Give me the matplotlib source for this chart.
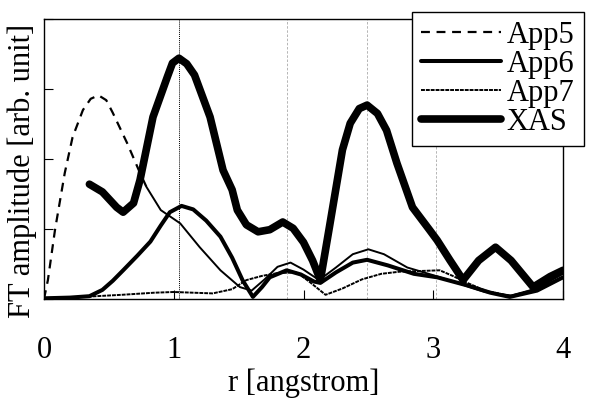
import numpy as np
import matplotlib
matplotlib.use('Agg')
import matplotlib.pyplot as plt

plt.rcParams['font.family'] = ['Liberation Serif', 'DejaVu Serif']

# values (r in angstrom, amplitude in tick units)
xas_r = [0.35, 0.45, 0.56, 0.61, 0.69, 0.74, 0.84, 0.95, 0.99, 1.04, 1.10, 1.16,
         1.28, 1.38, 1.45, 1.49, 1.56, 1.65, 1.74, 1.84, 1.92, 2.00, 2.07, 2.13,
         2.20, 2.30, 2.36, 2.43, 2.49, 2.57, 2.64, 2.72, 2.84, 2.97, 3.03, 3.13,
         3.23, 3.35, 3.48, 3.60, 3.77, 3.90, 4.00]
xas_a = [1.64, 1.53, 1.31, 1.24, 1.37, 1.70, 2.60, 3.17, 3.37, 3.44, 3.36, 3.20,
         2.60, 1.84, 1.56, 1.27, 1.06, 0.96, 0.99, 1.10, 1.01, 0.81, 0.55, 0.27,
         1.03, 2.13, 2.51, 2.72, 2.77, 2.65, 2.41, 1.94, 1.31, 0.99, 0.84, 0.55,
         0.27, 0.55, 0.74, 0.55, 0.17, 0.32, 0.41]

app6_r = [0.00, 0.20, 0.35, 0.45, 0.53, 0.61, 0.72, 0.82, 0.90, 0.97, 1.06, 1.15,
          1.25, 1.36, 1.45, 1.53, 1.61, 1.68, 1.74, 1.87, 1.98, 2.08, 2.13, 2.25,
          2.38, 2.49, 2.65, 2.85, 3.03, 3.25, 3.44, 3.59, 3.80, 4.00]
app6_a = [0.01, 0.02, 0.04, 0.13, 0.26, 0.41, 0.62, 0.82, 1.05, 1.24, 1.33, 1.28,
          1.12, 0.89, 0.59, 0.27, 0.03, 0.17, 0.31, 0.41, 0.35, 0.25, 0.23, 0.38,
          0.52, 0.56, 0.48, 0.36, 0.31, 0.20, 0.09, 0.03, 0.12, 0.31]

app5_r = [0.00, 0.03, 0.085, 0.16, 0.22, 0.30, 0.36, 0.42, 0.48, 0.53, 0.64, 0.74,
          0.79, 0.90, 1.05, 1.20, 1.36, 1.51, 1.60, 1.70, 1.80, 1.90, 2.00, 2.12,
          2.25, 2.38, 2.50, 2.62, 2.80, 3.00, 3.20, 3.40, 3.60, 3.80, 4.00]
app5_a = [0.00, 0.27, 0.99, 1.80, 2.31, 2.70, 2.86, 2.91, 2.84, 2.66, 2.23, 1.80,
          1.60, 1.27, 1.08, 0.74, 0.41, 0.17, 0.12, 0.28, 0.46, 0.52, 0.42, 0.27,
          0.45, 0.64, 0.71, 0.64, 0.45, 0.34, 0.22, 0.10, 0.05, 0.15, 0.36]

app7_r = [0.00, 0.30, 0.60, 0.85, 1.00, 1.15, 1.30, 1.45, 1.56, 1.68, 1.80, 1.95,
          2.05, 2.17, 2.30, 2.45, 2.60, 2.74, 2.90, 3.05, 3.15, 3.25, 3.40, 3.60,
          3.80, 4.00]
app7_a = [0.01, 0.03, 0.06, 0.09, 0.10, 0.09, 0.08, 0.14, 0.27, 0.33, 0.37, 0.38,
          0.24, 0.06, 0.15, 0.28, 0.36, 0.39, 0.40, 0.41, 0.33, 0.24, 0.12, 0.04,
          0.15, 0.30]

main_peak = 1.04
other_peaks = [1.87, 2.49, 3.02]

fig = plt.figure(figsize=(5.92, 4.0), dpi=100)
ax = fig.add_axes([44/592, 101/400, 519/592, 280/400])

ax.axvline(main_peak, color='black', ls=(0, (1, 1)), lw=0.7, zorder=1)
for r in other_peaks:
    ax.axvline(r, color='#aaaaaa', ls=(0, (3, 2)), lw=0.6, zorder=1)

# App5 shows as dashes on the steep rise, then as a thin line
app5_r = np.array(app5_r)
app5_a = np.array(app5_a)
near = app5_r <= 0.79
far = app5_r >= 0.79
ax.plot(app5_r[near], app5_a[near], color='black', lw=1.6, ls=(0, (4, 3)), label='App5')
ax.plot(app5_r[far], app5_a[far], color='black', lw=1.4)
ax.plot(app6_r, app6_a, color='black', lw=2.9, label='App6', solid_capstyle='round')
ax.plot(app7_r, app7_a, color='black', lw=1.4, ls=(0, (2, 0.5)), label='App7')
ax.plot(xas_r, xas_a, color='black', lw=5.5, label='XAS',
        solid_capstyle='round', solid_joinstyle='round')

ax.set_xlim(0, 4)
ax.set_ylim(0, 4)
ax.set_xticks([0, 1, 2, 3, 4])
ax.set_yticks([0, 1, 2, 3, 4])
ax.set_yticklabels([])
ax.tick_params(direction='in', length=6.5, width=0.8, labelsize=22)
ax.tick_params(axis='x', pad=27)
for s in ax.spines.values():
    s.set_linewidth(1.0)
ax.set_xlabel('r [angstrom]', fontsize=22, labelpad=2)
ax.set_ylabel('FT amplitude [arb. unit]', fontsize=22)
ax.yaxis.set_label_coords(-0.014, 0.457)

leg = ax.legend(loc='upper left', bbox_to_anchor=(412/592, 388/400),
                bbox_transform=fig.transFigure, fontsize=22, frameon=True,
                fancybox=False, framealpha=1, edgecolor='black',
                borderpad=0.3, labelspacing=0.0, handlelength=2.6,
                handletextpad=0.2, borderaxespad=0)
leg.get_frame().set_linewidth(1.0)

fig.savefig('out.png', dpi=100)
